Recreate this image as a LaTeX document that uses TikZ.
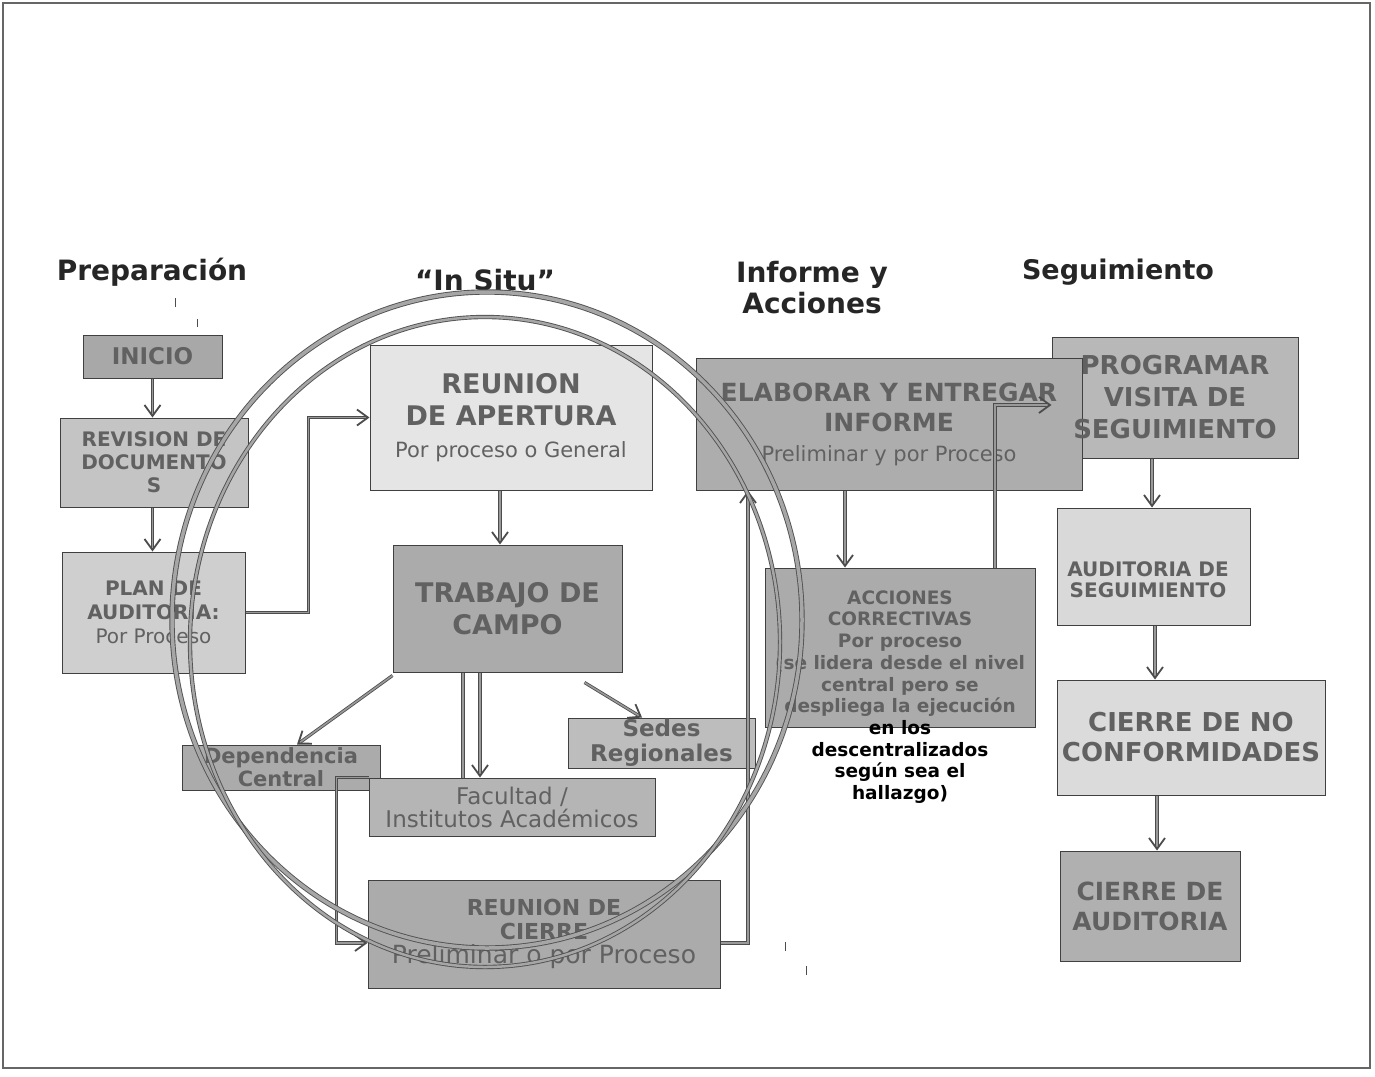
\documentclass[tikz,border=0pt]{standalone}
\usepackage{fontspec}
\setmainfont{DejaVu Sans}
\usetikzlibrary{arrows.meta,calc}
\begin{document}
\begin{tikzpicture}[x=1pt,y=-1pt,
  box/.style={draw=black!75,line width=1pt,inner sep=0pt,align=center,text=black!62},
  lbl/.style={inner sep=0pt,align=center,text=black!62},
  conn/.style={draw=black!70,double=black!40,double distance=1.6pt,line width=0.8pt,-{Straight Barb[length=11pt,width=16pt,line width=1.8pt]}},
  plainconn/.style={draw=black!70,double=black!40,double distance=1.6pt,line width=0.8pt},
  ring/.style={draw=black!68,double=black!35,line width=0.9pt},
  head/.style={font=\bfseries\fontsize{28}{31}\selectfont,text=black!85,align=center},
  tickmark/.style={draw=black!70,line width=1pt}]
\useasboundingbox (0,0) rectangle (1375,1076);
\fill[white] (0,0) rectangle (1375,1076);
\draw[black!60,line width=1.2pt] (3,3) rectangle (1370,1068);

% headers
\node[head] (hprep) at (152,272) {Preparación};
\node[head] (hsitu) at (485,280) {“In Situ”};
\node[head] (hinf) at (812,288) {Informe y\\Acciones};
\node[head,font=\bfseries\fontsize{27}{31}\selectfont] (hseg) at (1118,272) {Seguimiento};

% small ticks
\draw[tickmark] (175,298) -- (175,307);
\draw[tickmark] (197,319) -- (197,327);
\draw[tickmark] (785,942) -- (785,951);
\draw[tickmark] (806,966) -- (806,975);

% preparation column
\node[box,fill=black!34,minimum width=139pt,minimum height=43pt,font=\bfseries\fontsize{23}{26}\selectfont] (inicio) at (152.5,356.5) {INICIO};
\node[box,fill=black!23,minimum width=188pt,minimum height=89pt,font=\bfseries\fontsize{20}{23}\selectfont] (revision) at (154,462.5) {REVISION DE\\DOCUMENTO\\S};
\node[box,fill=black!19,minimum width=183pt,minimum height=121pt,font=\bfseries\fontsize{20}{24}\selectfont] (plan) at (153.5,612.5) {PLAN DE\\AUDITORIA:\\\mdseries Por Proceso};

% in situ
\node[box,fill=black!10,minimum width=282pt,minimum height=145pt,font=\bfseries\fontsize{27}{32}\selectfont] (apertura) at (511,417.5) {REUNION\\DE APERTURA\\\mdseries\fontsize{21}{24}\selectfont Por proceso o General};
\node[box,fill=black!33,minimum width=229pt,minimum height=127pt,font=\bfseries\fontsize{27}{32}\selectfont] (trabajo) at (507.5,608.5) {TRABAJO DE\\CAMPO};
\node[box,fill=black!33,minimum width=198pt,minimum height=45pt,font=\bfseries\fontsize{21}{23}\selectfont] (dependencia) at (281,767.5) {Dependencia\\Central};
\node[box,fill=black!26,minimum width=187pt,minimum height=50pt,font=\bfseries\fontsize{23}{25}\selectfont] (sedes) at (661.5,743) {Sedes\\Regionales};
\node[box,fill=black!29,minimum width=286pt,minimum height=58pt,font=\fontsize{23}{23}\selectfont] (facultad) at (512,807) {Facultad /\\Institutos Académicos};
\node[box,fill=black!33,minimum width=352pt,minimum height=108pt,font=\bfseries\fontsize{22}{24}\selectfont] (cierre) at (544,934) {REUNION DE\\CIERRE\\\mdseries\fontsize{25}{28}\selectfont Preliminar o por Proceso};

% informe y acciones
\node[box,fill=black!28,minimum width=246pt,minimum height=121pt] (programar) at (1175,397.5) {};
\node[box,fill=black!32,minimum width=386pt,minimum height=132pt,font=\bfseries\fontsize{25}{30}\selectfont] (elaborar) at (889,424) {ELABORAR Y ENTREGAR\\INFORME\\\mdseries\fontsize{21}{24}\selectfont Preliminar y por Proceso};
\node[lbl,font=\bfseries\fontsize{26}{32}\selectfont] (progtext) at (1175,397.5) {PROGRAMAR\\VISITA DE\\SEGUIMIENTO};
\node[box,fill=black!33,minimum width=270pt,minimum height=159pt] (acciones) at (900,647.5) {};
\node[lbl,font=\bfseries\fontsize{18.5}{21.7}\selectfont] (acctext) at (900,697) {ACCIONES\\CORRECTIVAS\\Por proceso\\(se lidera desde el nivel\\central pero se\\despliega la ejecución\\\color{black}en los\\\color{black}descentralizados\\\color{black}según sea el\\\color{black}hallazgo)};

% seguimiento column
\node[box,fill=black!15,minimum width=193pt,minimum height=117pt] (auditoria) at (1153.5,566.5) {};
\node[lbl,font=\bfseries\fontsize{20}{21}\selectfont] (audtext) at (1148,580) {AUDITORIA DE\\SEGUIMIENTO};
\node[box,fill=black!14,minimum width=268pt,minimum height=115pt,font=\bfseries\fontsize{26}{30}\selectfont] (cierrenc) at (1191,737.5) {CIERRE DE NO\\CONFORMIDADES};
\node[box,fill=black!31,minimum width=180pt,minimum height=110pt,font=\bfseries\fontsize{25}{30}\selectfont] (cierreaud) at (1150,906) {CIERRE DE\\AUDITORIA};

% connectors
\draw[conn] (inicio.south) -- (revision.north -| inicio.south);
\draw[conn] (revision.south -| inicio.south) -- (plan.north -| inicio.south);
\draw[conn] (plan.east) -- ++(63,0) |- (apertura.west);
\draw[conn] (apertura.south -| 500,0) -- (trabajo.north -| 500,0);
\draw[conn] ([shift={(0,-3pt)}]trabajo.south west) -- (dependencia.north -| 297,0);
\draw[plainconn] (trabajo.south -| 463,0) -- (facultad.north -| 463,0);
\draw[conn] (trabajo.south -| 480,0) -- (facultad.north -| 480,0);
\draw[conn] ($(trabajo.south east)+(-38,10)$) -- (sedes.north -| 642,0);
\draw[conn] (facultad.north west) -- ++(-32,0) |- ([yshift=-9pt]cierre.west);
\draw[conn] ([yshift=-9pt]cierre.east) -| (elaborar.south -| 748,0);
\draw[conn] (elaborar.south -| 845,0) -- (acciones.north -| 845,0);
\draw[conn] (acciones.north -| 995,0) |- ([yshift=-7.5pt]programar.west);
\draw[conn] (programar.south -| 1152,0) -- (auditoria.north -| 1152,0);
\draw[conn] (auditoria.south -| 1155,0) -- (cierrenc.north -| 1155,0);
\draw[conn] (cierrenc.south -| 1157,0) -- (cierreaud.north -| 1157,0);

% in situ rings
\draw[ring,double distance=3.5pt] (487,620) ellipse [x radius=315pt,y radius=328pt];
\draw[ring,double distance=2.5pt] (485,642) ellipse [x radius=295pt,y radius=325pt];
\end{tikzpicture}
\end{document}
